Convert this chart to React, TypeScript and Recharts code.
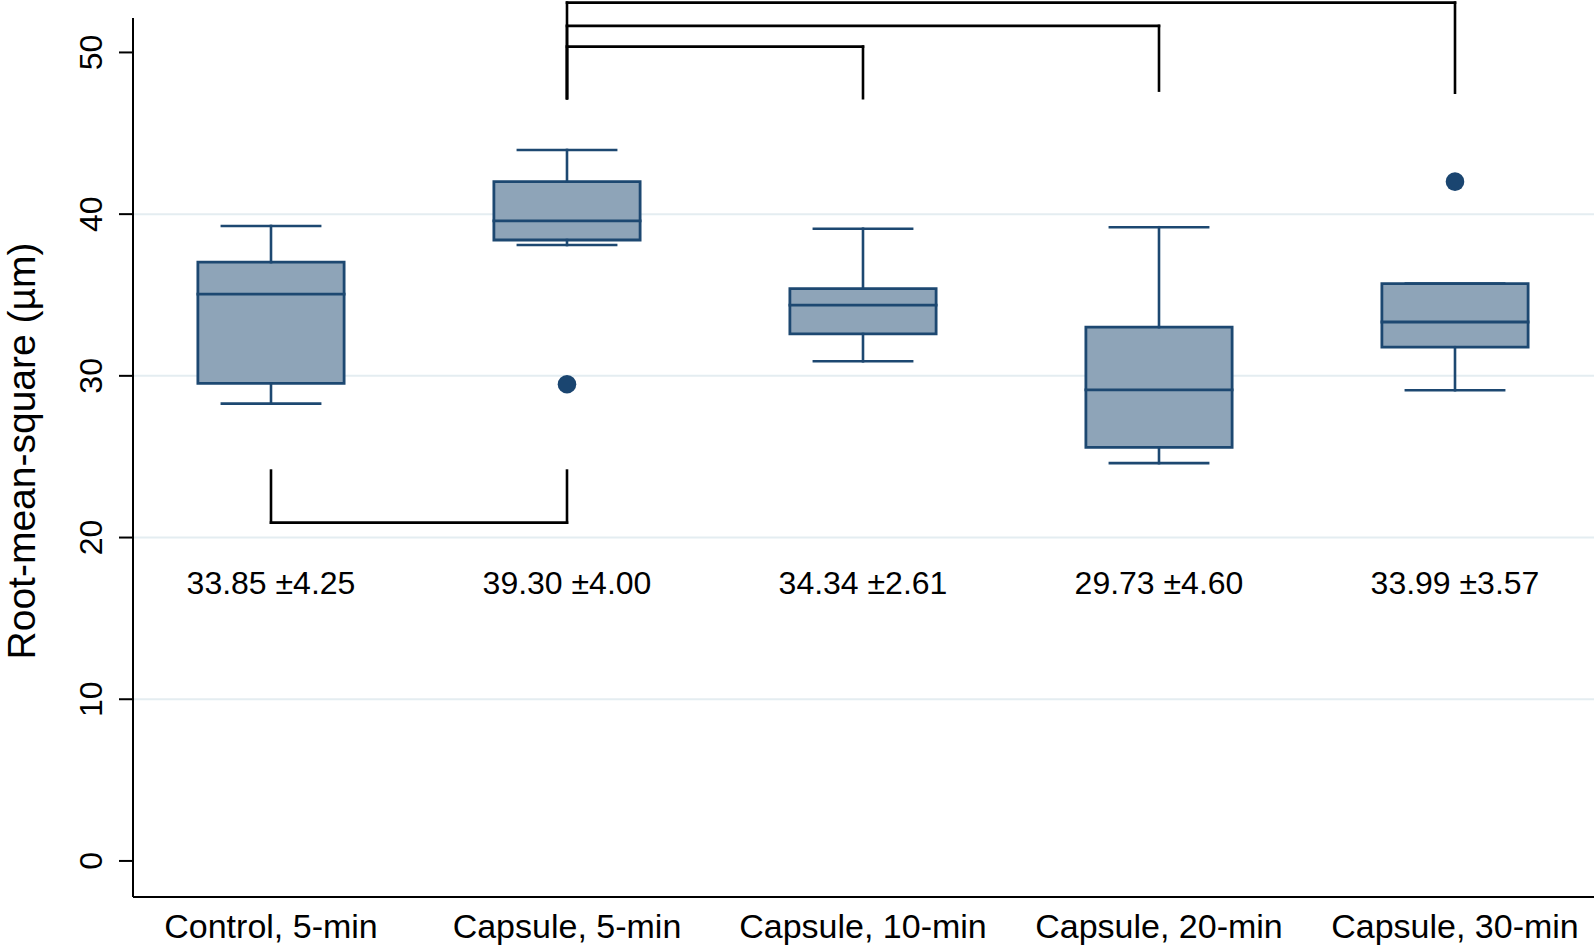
import React from 'react';
import {
  ComposedChart,
  XAxis,
  YAxis,
  CartesianGrid,
  Scatter,
  ReferenceArea,
  ReferenceLine,
  ReferenceDot,
  Label,
} from 'recharts';

const categories = ['Control, 5-min', 'Capsule, 5-min', 'Capsule, 10-min', 'Capsule, 20-min', 'Capsule, 30-min'];
const whiskerLow = [28.28, 38.09, 30.9, 24.6, 29.11];
const q1 = [29.54, 38.4, 32.59, 25.58, 31.77];
const median = [35.05, 39.58, 34.37, 29.13, 33.33];
const q3 = [37.03, 42.01, 35.39, 33.01, 35.7];
const whiskerHigh = [39.27, 43.97, 39.1, 39.19, 35.7];
const outliers = [
  { x: 1, y: 29.48 },
  { x: 4, y: 42.01 },
];
const meanSd = ['33.85 ±4.25', '39.30 ±4.00', '34.34 ±2.61', '29.73 ±4.60', '33.99 ±3.57'];
const meanSdLevel = 17.17;
const yTicks = [0, 10, 20, 30, 40, 50];
const gridValues = [10, 20, 30, 40];

// significance brackets: from group -> to group, bar level, leg ends
const bracketFrom = [0, 1, 1, 1];
const bracketTo = [1, 2, 3, 4];
const bracketBar = [20.92, 50.36, 51.64, 53.08];
const bracketEndFrom = [24.14, 47.17, 47.17, 47.17];
const bracketEndTo = [24.14, 47.17, 47.64, 47.51];

const FONT = '"Liberation Sans", Arial, Helvetica, sans-serif';
const BOX_FILL = '#8ea4b8';
const BOX_STROKE = '#1d4871';
const BOX_HALF = 0.247;
const CAP_HALF = 0.166;

const XTick = (props: any) => {
  const { x, y, payload } = props;
  return (
    <text x={x} y={y + 41} textAnchor="middle" fontFamily={FONT} fontSize={34} fill="#000">
      {categories[payload.value]}
    </text>
  );
};

const YTick = (props: any) => {
  const { x, y, payload } = props;
  const bx = x - 17;
  return (
    <text
      x={bx}
      y={y}
      transform={`rotate(-90 ${bx} ${y})`}
      textAnchor="middle"
      fontFamily={FONT}
      fontSize={32}
      fill="#000"
    >
      {payload.value}
    </text>
  );
};

const YLabel = (props: any) => {
  const vb = props.viewBox;
  const x = vb.x + 35;
  const y = 451;
  return (
    <text x={x} y={y} transform={`rotate(-90 ${x} ${y})`} textAnchor="middle" fontFamily={FONT} fontSize={39} fill="#000">
      Root-mean-square (µm)
    </text>
  );
};

const seg = (key: string, x1: number, y1: number, x2: number, y2: number, color: string, w: number, visible = false) => (
  <ReferenceLine
    key={key}
    segment={[
      { x: x1, y: y1 },
      { x: x2, y: y2 },
    ]}
    stroke={color}
    strokeWidth={w}
    strokeLinecap="square"
    ifOverflow={visible ? 'visible' : 'discard'}
  />
);

export default function App() {
  const boxes = categories.map((_, i) => (
    <ReferenceArea
      key={`box-${i}`}
      x1={i - BOX_HALF}
      x2={i + BOX_HALF}
      y1={q1[i]}
      y2={q3[i]}
      fill={BOX_FILL}
      fillOpacity={1}
      stroke={BOX_STROKE}
      strokeWidth={2.8}
    />
  ));

  const boxLines: React.ReactNode[] = [];
  categories.forEach((_, i) => {
    boxLines.push(seg(`med-${i}`, i - BOX_HALF, median[i], i + BOX_HALF, median[i], BOX_STROKE, 2.8));
    if (whiskerHigh[i] > q3[i]) {
      boxLines.push(seg(`wh-${i}`, i, q3[i], i, whiskerHigh[i], BOX_STROKE, 2.6));
    }
    boxLines.push(seg(`whc-${i}`, i - CAP_HALF, whiskerHigh[i], i + CAP_HALF, whiskerHigh[i], BOX_STROKE, 2.6));
    if (whiskerLow[i] < q1[i]) {
      boxLines.push(seg(`wl-${i}`, i, q1[i], i, whiskerLow[i], BOX_STROKE, 2.6));
    }
    boxLines.push(seg(`wlc-${i}`, i - CAP_HALF, whiskerLow[i], i + CAP_HALF, whiskerLow[i], BOX_STROKE, 2.6));
  });

  const brackets: React.ReactNode[] = [];
  bracketFrom.forEach((a, k) => {
    const b = bracketTo[k];
    brackets.push(seg(`bl-${k}`, a, bracketEndFrom[k], a, bracketBar[k], '#000', 2.6, true));
    brackets.push(seg(`bh-${k}`, a, bracketBar[k], b, bracketBar[k], '#000', 2.6, true));
    brackets.push(seg(`br-${k}`, b, bracketBar[k], b, bracketEndTo[k], '#000', 2.6, true));
  });

  const labels = meanSd.map((txt, i) => (
    <ReferenceDot
      key={`lbl-${i}`}
      x={i}
      y={meanSdLevel}
      r={0}
      shape={(p: any) => (
        <text x={p.cx} y={p.cy} textAnchor="middle" dominantBaseline="central" fontFamily={FONT} fontSize={32} fill="#000">
          {txt}
        </text>
      )}
    />
  ));

  return (
    <div style={{ position: 'absolute', left: 0, top: 0, width: 1594, height: 947, background: '#fff' }}>
      <ComposedChart width={1594} height={947} margin={{ top: 18, right: 0, bottom: 0, left: 0 }} data={outliers}>
        <CartesianGrid horizontal vertical={false} horizontalValues={gridValues} stroke="#e4edf1" strokeWidth={2} />
        <XAxis
          dataKey="x"
          type="number"
          domain={[-0.4662, 4.4696]}
          ticks={[0, 1, 2, 3, 4]}
          allowDataOverflow
          height={50}
          tickLine={false}
          tickSize={0}
          tickMargin={0}
          axisLine={{ stroke: '#000', strokeWidth: 2 }}
          tick={<XTick />}
          interval={0}
        />
        <YAxis
          dataKey="y"
          type="number"
          domain={[-2.23, 52.13]}
          ticks={yTicks}
          allowDataOverflow
          width={133}
          tickSize={14}
          tickMargin={0}
          tickLine={{ stroke: '#000', strokeWidth: 2 }}
          axisLine={{ stroke: '#000', strokeWidth: 2 }}
          tick={<YTick />}
          interval={0}
        >
          <Label content={<YLabel />} />
        </YAxis>
        {boxes}
        {boxLines}
        {brackets}
        {labels}
        <Scatter
          data={outliers}
          dataKey="y"
          isAnimationActive={false}
          shape={(p: any) => <circle cx={p.cx} cy={p.cy} r={9.3} fill="#1a4570" />}
        />
      </ComposedChart>
    </div>
  );
}
